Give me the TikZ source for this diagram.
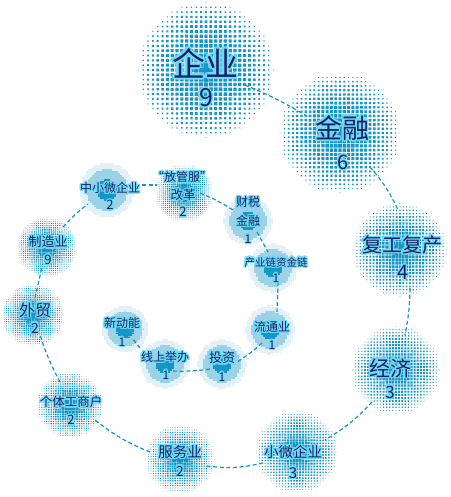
\documentclass[tikz,border=0pt]{standalone}
\usepackage{fontspec}
\setmainfont{Noto Sans CJK SC}
\newfontfamily\cjk{Noto Sans CJK SC}
\usetikzlibrary{calc}
\definecolor{dotc}{RGB}{20,150,198}
\definecolor{ink}{RGB}{22,34,102}
\definecolor{halo}{RGB}{112,218,246}
\definecolor{linkc}{RGB}{20,150,198}
\tikzset{
  lbl/.style={inner sep=0pt, font=\cjk},
  link/.style={draw=linkc, line width=1.2pt, dash pattern=on 4pt off 2.6pt},
}
\newcommand\halftone[3]{%
  \pgfmathsetmacro\htp{max(2,#3/14.5)}%
  \pgfmathtruncatemacro\htn{#3/\htp}%
  \fill[dotc] \foreach \i [evaluate=\i as \jm using {int(sqrt(max(0,\htn*\htn-\i*\i)))}] in {-\htn,...,\htn}{
     \foreach \j [evaluate=\j as \s using {0.47*\htp*sqrt(max(0,1-sqrt(\i*\i+\j*\j)*\htp/#3))}] in {-\jm,...,\jm}{
        (#1+\i*\htp-\s, #2+\j*\htp-\s) rectangle ++(2*\s,2*\s)
     }
  };
}
\newcommand\glow[4]{%
  \pgfmathsetmacro\gw{min(2.1,max(1.3,0.065*#3))}%
  \foreach \a in {0,30,...,330}{%
    \node[lbl,text=halo,shift={(\a:\gw pt)}] at (#2) {\fontsize{#3}{#3}\selectfont #4};}%
  \node[lbl,text=ink] (#1) at (#2) {\fontsize{#3}{#3}\selectfont #4};%
}
\begin{document}
\begin{tikzpicture}[x=1pt,y=-1pt]
\fill[white] (0,0) rectangle (450,497);
\useasboundingbox (0,0) rectangle (450,497);
% circle centres
\coordinate (n1) at (206,70);
\coordinate (n2) at (340,133);
\coordinate (n3) at (400,250);
\coordinate (n4) at (396,370);
\coordinate (n5) at (297,452);
\coordinate (n6) at (180,459);
\coordinate (n7) at (70,405);
\coordinate (n8) at (33,315);
\coordinate (n9) at (47,247);
\coordinate (n10) at (107,190);
\coordinate (n11) at (184,193);
\coordinate (n12) at (248,221);
\coordinate (n13) at (273,268);
\coordinate (n14) at (270,330);
\coordinate (n15) at (222,364);
\coordinate (n16) at (165,364);
\coordinate (n17) at (125,329);
% halftone discs
\halftone{206}{70}{70}
\halftone{340}{133}{62}
\halftone{400}{250}{48}
\halftone{396}{370}{45}
\halftone{297}{452}{42}
\halftone{180}{459}{35}
\halftone{70}{405}{34}
\halftone{33}{315}{32}
\halftone{47}{247}{31}
\halftone{107}{190}{29}
\halftone{184}{193}{30}
\halftone{248}{221}{26}
\halftone{273}{268}{26}
\halftone{270}{330}{26}
\halftone{222}{364}{26}
\halftone{165}{364}{26}
\halftone{125}{329}{25}
% connectors
\draw[link] ([shift={(39,15)}]n1.center) to[bend left=4] ([shift={(-35,-18)}]n2.center);
\draw[link] ([shift={(30,34)}]n2.center) to[bend left=8] ([shift={(-2,-40)}]n3.center);
\draw[link] ([shift={(10,38)}]n3.center) to[bend left=5] ([shift={(9,-35)}]n4.center);
\draw[link] ([shift={(-24,32)}]n4.center) to[bend left=8] ([shift={(28,-12)}]n5.center);
\draw[link] ([shift={(-34,11)}]n5.center) to[bend left=10] ([shift={(27,7)}]n6.center);
\draw[link] ([shift={(-30,-7)}]n6.center) to[bend left=8] ([shift={(25,15)}]n7.center);
\draw[link] ([shift={(-10,-23)}]n7.center) to[bend left=5] ([shift={(7,20)}]n8.center);
\draw[link] ([shift={(2,-17)}]n8.center) -- ([shift={(-5,20)}]n9.center);
\draw[link] ([shift={(16,-20)}]n9.center) to[bend left=5] ([shift={(-19,14)}]n10.center);
\draw[link] ([shift={(35,-5)}]n10.center) -- ([shift={(-27,-8)}]n11.center);
\draw[link] ([shift={(16,0)}]n11.center) to[bend left=5] ([shift={(-15,-11)}]n12.center);
\draw[link] ([shift={(9,11)}]n12.center) -- ([shift={(-5,-16)}]n13.center);
\draw[link] ([shift={(5,14)}]n13.center) -- ([shift={(7,-18)}]n14.center);
\draw[link] ([shift={(-8,13)}]n14.center) to[bend left=5] ([shift={(15,-2)}]n15.center);
\draw[link] ([shift={(-12,5)}]n15.center) to[bend left=5] ([shift={(7,7)}]n16.center);
\draw[link] ([shift={(-25,-16)}]n16.center) -- ([shift={(7,9)}]n17.center);
% labels
\glow{t1}{205,63}{33}{企业}
\glow{d1}{206,98}{25}{9}
\glow{t2}{342,128}{27}{金融}
\glow{d2}{343,162}{20}{6}
\glow{t3}{402,245}{20}{复工复产}
\glow{d3}{403,272}{20}{4}
\glow{t4}{390,368}{21}{经济}
\glow{d4}{390,392}{17}{3}
\glow{t5}{293,452}{14.5}{小微企业}
\glow{d5}{293,473}{15}{3}
\glow{t6}{180,452}{14.5}{服务业}
\glow{d6}{180,471}{14}{2}
\glow{t7}{71,402}{12.5}{个体工商户}
\glow{d7}{71,420}{13}{2}
\glow{t8}{35,310}{16}{外贸}
\glow{d8}{35,328}{14}{2}
\glow{t9}{48,242}{13}{制造业}
\glow{d9}{48,260}{13}{9}
\glow{t10}{110,188}{12}{中小微企业}
\glow{d10}{110,205}{13}{2}
\glow{t11a}{182,177}{12}{“放管服”}
\glow{t11b}{183,195}{12.5}{改革}
\glow{d11}{183,212}{13}{2}
\glow{t12a}{248,202}{12}{财税}
\glow{t12b}{248,221}{12}{金融}
\glow{d12}{248,239}{12}{1}
\glow{t13}{276,262}{10.5}{产业链资金链}
\glow{d13}{276,278}{12}{1}
\glow{t14}{272,327}{12}{流通业}
\glow{d14}{272,345}{12}{1}
\glow{t15}{222,358}{13}{投资}
\glow{d15}{222,377}{12}{1}
\glow{t16}{165,357}{12}{线上举办}
\glow{d16}{166,375}{12}{1}
\glow{t17}{122,323}{12}{新动能}
\glow{d17}{122,342}{12}{1}
\end{tikzpicture}
\end{document}
